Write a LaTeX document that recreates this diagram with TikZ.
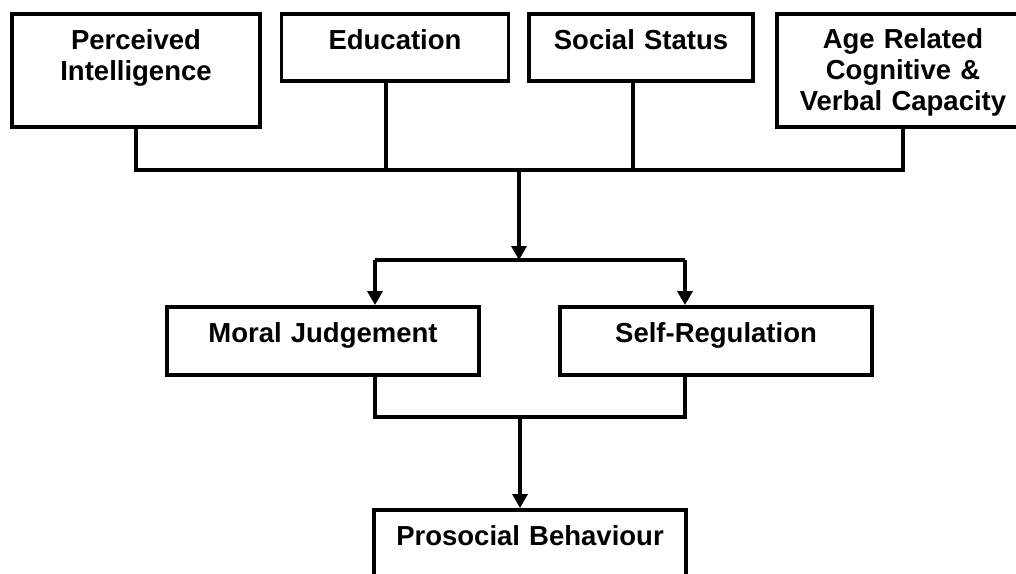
\documentclass[tikz,border=0pt]{standalone}
\usepackage{fontspec}
\setmainfont{Liberation Sans}
\usepackage{tikz}
\usetikzlibrary{arrows.meta}
\tikzstyle{box}=[rectangle,draw=black,line width=3.5pt,inner sep=0pt,
  align=center,anchor=north,text height=36pt,
  font=\fontsize{27.5}{31}\selectfont\bfseries]
\tikzstyle{link}=[line width=3.5pt]
\tikzstyle{arr}=[line width=3.5pt,-{Triangle[length=14pt,width=15pt]}]

\begin{document}
\begin{tikzpicture}[x=1pt,y=-1pt]
    \useasboundingbox (0,0) rectangle (1016,573);
    \clip (0,0) rectangle (1016,573);
    \node [style=box,text width=248pt,text depth=77pt] (percv) at (136,12) {Perceived\\Intelligence};
    \node [style=box,text width=227pt,text depth=31pt] (edu) at (395,12) {Education};
    \node [style=box,text width=224pt,text depth=31pt] (social) at (641,12) {Social Status};
    \node [style=box,text width=252pt,text height=35pt,text depth=78pt] (age) at (903,12) {Age Related\\Cognitive \&\\Verbal Capacity};
    \node [style=box,text width=312pt,text depth=32pt] (moral) at (323,305) {Moral Judgement};
    \node [style=box,text width=312pt,text depth=32pt] (selfreg) at (716,305) {Self-Regulation};
    \node [style=box,text width=312pt,text depth=32pt] (prosoc) at (530,508) {Prosocial Behaviour};
    \coordinate (topbus) at (519,170);
    \coordinate (eduTap) at (386,170);
    \coordinate (socTap) at (633,170);
    \coordinate (split) at (519,260);
    \coordinate (splitL) at (375,260);
    \coordinate (splitR) at (685,260);
    \coordinate (lowL) at (375,417);
    \coordinate (lowR) at (685,417);
    \coordinate (join) at (520,417);
    \draw [style=link] (percv.south) -- (percv.south |- topbus) -- (age.south |- topbus) -- (age.south);
    \draw [style=link] (eduTap |- edu.south) -- (eduTap);
    \draw [style=link] (socTap |- social.south) -- (socTap);
    \draw [style=arr] (topbus) -- (split);
    \draw [style=link] (splitL) -- (splitR);
    \draw [style=arr] (splitL) -- (splitL |- moral.north);
    \draw [style=arr] (splitR) -- (splitR |- selfreg.north);
    \draw [style=link] (lowL |- moral.south) -- (lowL) -- (lowR) -- (lowR |- selfreg.south);
    \draw [style=arr] (join) -- (join |- prosoc.north);
  \end{tikzpicture}
\end{document}
